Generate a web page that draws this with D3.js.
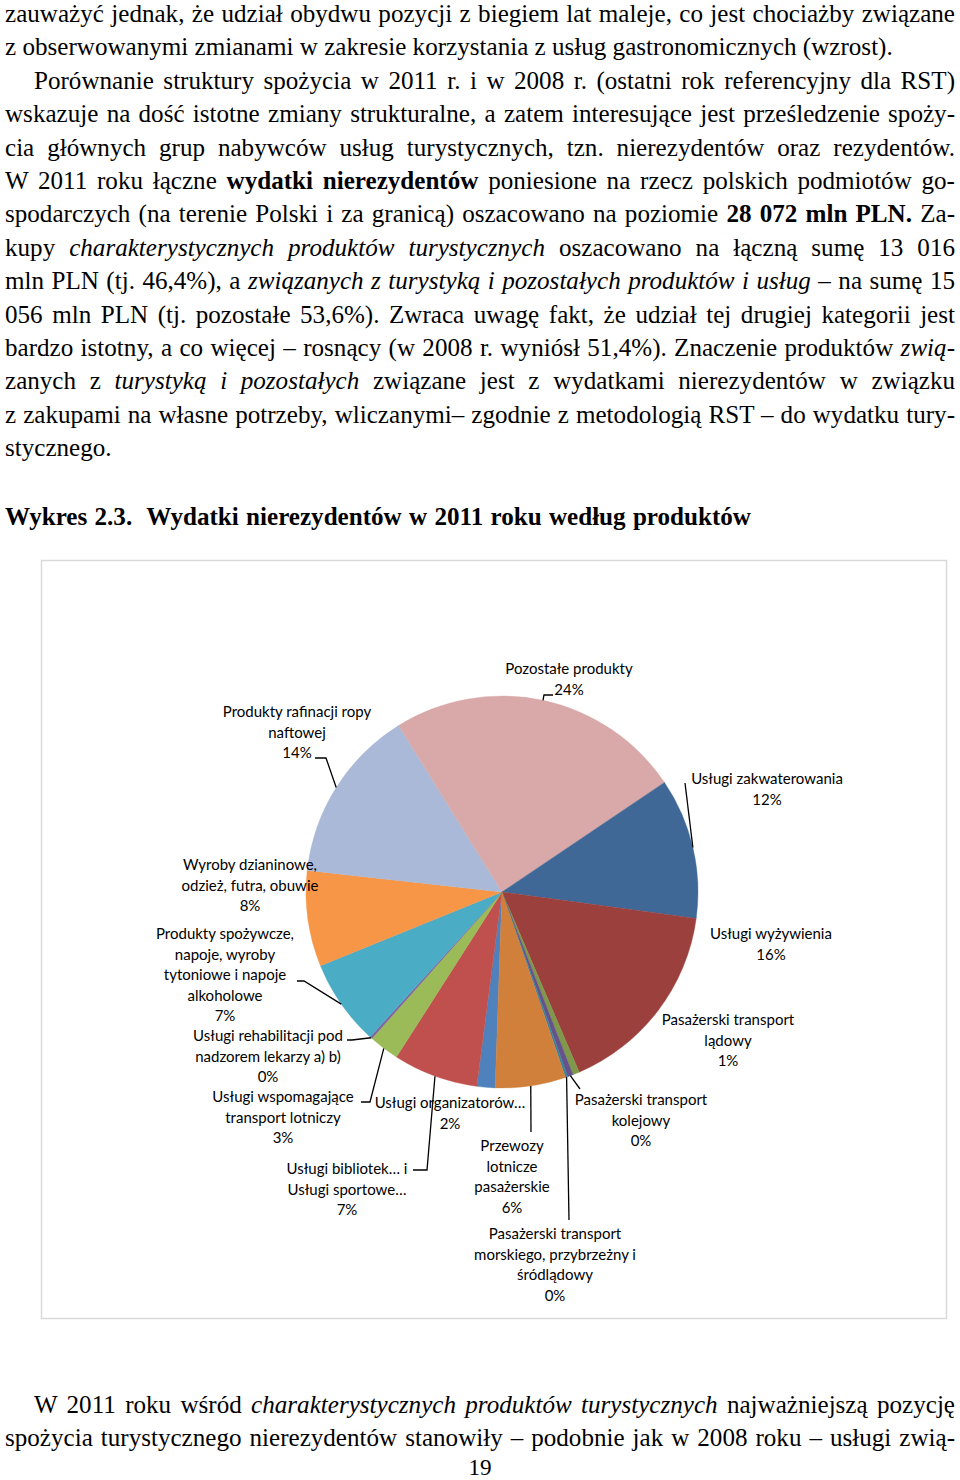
<!DOCTYPE html>
<html>
<head>
<meta charset="utf-8">
<script src="https://cdn.jsdelivr.net/npm/d3@7"></script>
<style>
  body { margin: 0; background: #fff; }
  svg { display: block; }
</style>
</head>
<body>
<div id="page"></div>
<script>
//Page size
let width = 960,
  height = 1480;

//Pie data, in sheet order (clockwise from the first slice)
let categories = [
  "Usługi organizatorów…",
  "Usługi bibliotek… i\nUsługi sportowe…",
  "Usługi wspomagające\ntransport lotniczy",
  "Usługi rehabilitacji pod\nnadzorem lekarzy a) b)",
  "Produkty spożywcze,\nnapoje, wyroby\ntytoniowe i napoje\nalkoholowe",
  "Wyroby dzianinowe,\nodzież, futra, obuwie",
  "Produkty rafinacji ropy\nnaftowej",
  "Pozostałe produkty",
  "Usługi zakwaterowania",
  "Usługi wyżywienia",
  "Pasażerski transport\nlądowy",
  "Pasażerski transport\nkolejowy",
  "Pasażerski transport\nmorskiego, przybrzeżny i\nśródlądowy",
  "Przewozy\nlotnicze\npasażerskie"
];
let shares = [1.5, 7.0, 2.5, 0.2, 7.1, 7.9, 14.4, 24.4, 11.6, 16.4, 0.55, 0.45, 0.2, 5.8];
let colors = ["#4F81BD", "#C0504D", "#9BBB59", "#8064A2", "#4BACC6", "#F79646", "#A9B9D7",
  "#D8A9A8", "#3F6897", "#9B403D", "#7F984A", "#67518B", "#3A8498", "#D0803B"];

//Where Excel put each data label (centre x, first line y) and its leader line
let labelLayout = [
  {x: 450, y: 1103, leader: null},
  {x: 347, y: 1169, leader: [[413, 1170], [427, 1170]]},
  {x: 283, y: 1097, leader: [[361, 1102], [370, 1102]]},
  {x: 268, y: 1036, leader: [[347, 1040], [352, 1040]]},
  {x: 225, y: 934, leader: [[297, 981], [304, 981]]},
  {x: 250, y: 865, leader: null},
  {x: 297, y: 712, leader: [[315, 758], [326, 758]]},
  {x: 569, y: 669, leader: [[553, 695], [544, 695]]},
  {x: 767, y: 779, leader: [[685, 783]]},
  {x: 771, y: 934, leader: null},
  {x: 728, y: 1020, leader: null},
  {x: 641, y: 1100, leader: [[580, 1089]]},
  {x: 555, y: 1234, leader: [[569, 1220]]},
  {x: 512, y: 1146, leader: [[531, 1132]]}
];

//Body text, one entry per printed line: [text, style] pieces
let topLines = [
  [["zauważyć jednak, że udział obydwu pozycji z biegiem lat maleje, co jest chociażby związane"]],
  [["z obserwowanymi zmianami w zakresie korzystania z usług gastronomicznych (wzrost)."]],
  [["Porównanie struktury spożycia w 2011 r. i w 2008 r. (ostatni rok referencyjny dla RST)"]],
  [["wskazuje na dość istotne zmiany strukturalne, a zatem interesujące jest prześledzenie spoży-"]],
  [["cia głównych grup nabywców usług turystycznych, tzn. nierezydentów oraz rezydentów."]],
  [["W 2011 roku łączne "], ["wydatki nierezydentów", "b"], [" poniesione na rzecz polskich podmiotów go-"]],
  [["spodarczych (na terenie Polski i za granicą) oszacowano na poziomie "], ["28 072 mln PLN.", "b"], [" Za-"]],
  [["kupy "], ["charakterystycznych produktów turystycznych", "i"], [" oszacowano na łączną sumę 13 016"]],
  [["mln PLN (tj. 46,4%), a "], ["związanych z turystyką i pozostałych produktów i usług", "i"], [" – na sumę 15"]],
  [["056 mln PLN (tj. pozostałe 53,6%). Zwraca uwagę fakt, że udział tej drugiej kategorii jest"]],
  [["bardzo istotny, a co więcej – rosnący (w 2008 r. wyniósł 51,4%). Znaczenie produktów "], ["zwią-", "i"]],
  [["zanych z "], ["turystyką", "i"], [" "], ["i pozostałych", "i"], [" związane jest z wydatkami nierezydentów w związku"]],
  [["z zakupami na własne potrzeby, wliczanymi– zgodnie z metodologią RST – do wydatku tury-"]],
  [["stycznego."]]
];
//Paragraph ends are not justified, first lines are indented
let lastLines = [1, 13];
let indentLines = [2];

let bottomLines = [
  [["W 2011 roku wśród "], ["charakterystycznych produktów turystycznych", "i"], [" najważniejszą pozycję"]],
  [["spożycia turystycznego nierezydentów stanowiły – podobnie jak w 2008 roku – usługi zwią-"]]
];

let chartTitle = "Wykres 2.3.  Wydatki nierezydentów w 2011 roku według produktów";
let pageNumber = "19";

//Pick the first Times-like face that is really there (canvas width test)
let ctx = document.createElement("canvas").getContext("2d");
function widthIn(font) {
  ctx.font = "40px " + font;
  return ctx.measureText("Wydatki nierezydentów 2011 abcxyz").width;
}
let monoW = widthIn("monospace"), sansW = widthIn("sans-serif");
let serifFace = ["Liberation Serif", "Times New Roman", "Tinos", "Nimbus Roman", "Nimbus Roman No9 L",
  "FreeSerif", "Noto Serif", "DejaVu Serif Condensed", "DejaVu Serif"].find(function (f) {
  let w1 = widthIn("'" + f + "', monospace"), w2 = widthIn("'" + f + "', sans-serif");
  return w1 !== monoW || w2 !== sansW;
}) || "serif";
let serifFamily = "'" + serifFace + "', serif";
let fontSize = serifFace.indexOf("DejaVu") === 0 || serifFace === "serif" ? 22 : 26;

let svg = d3.select("#page").append("svg")
  .attr("width", width)
  .attr("height", height);

svg.append("rect")
  .attr("width", width).attr("height", height)
  .attr("fill", "white");

//----- body text -----
let left = 5, right = 955, indent = 29, lineGap = 33.4;

function addLine(pieces) {
  let t = svg.append("text")
    .style("font-family", serifFamily)
    .attr("font-size", fontSize)
    .attr("fill", "#000")
    .style("white-space", "pre");
  pieces.forEach(function (p) {
    t.append("tspan")
      .attr("font-weight", p[1] === "b" ? "bold" : null)
      .attr("font-style", p[1] === "i" ? "italic" : null)
      .text(p[0]);
  });
  return t;
}

//horizontal squeeze of the scanned serif, taken from the one unjustified long line
let probe = addLine(topLines[1]);
let squeeze = 888 / probe.node().getComputedTextLength();
probe.remove();

function layLine(pieces, y, x0, x1, justify) {
  let t = addLine(pieces);
  t.attr("transform", "translate(" + x0 + "," + y + ") scale(" + squeeze + ",1)");
  if (justify) {
    let natural = t.node().getComputedTextLength();
    let spaces = pieces.map(p => p[0]).join("").split(" ").length - 1;
    let target = (x1 - x0) / squeeze;
    t.style("word-spacing", ((target - natural) / spaces) + "px");
  }
  return t;
}

topLines.forEach(function (pieces, i) {
  let x0 = indentLines.includes(i) ? left + indent : left;
  layLine(pieces, 22 + i * lineGap, x0, right, !lastLines.includes(i));
});

layLine([[chartTitle, "b"]], 525, left, 751, true);

bottomLines.forEach(function (pieces, i) {
  layLine(pieces, 1413 + i * lineGap, i === 0 ? left + indent : left, right, true);
});

svg.append("text")
  .style("font-family", serifFamily)
  .attr("text-anchor", "middle")
  .attr("font-size", fontSize - 2)
  .attr("transform", "translate(480,1475) scale(" + squeeze + ",1)")
  .attr("fill", "#000")
  .text(pageNumber);

//----- chart area -----
svg.append("rect")
  .attr("x", 41.5).attr("y", 560.5)
  .attr("width", 905).attr("height", 758)
  .attr("fill", "white")
  .attr("stroke", "#d9d9d9")
  .attr("stroke-width", 1.5);

let cx = 502, cy = 892, radius = 196;
let firstSliceAngle = 182 * Math.PI / 180;

let pie = d3.pie()
  .sort(null)
  .value(d => d)
  .startAngle(firstSliceAngle)
  .endAngle(firstSliceAngle + 2 * Math.PI);

let arc = d3.arc().innerRadius(0).outerRadius(radius);
let rim = d3.arc().innerRadius(radius).outerRadius(radius);

let total = d3.sum(shares);
let slices = pie(shares);

let g = svg.append("g")
  .attr("transform", "translate(" + cx + "," + cy + ")");

g.selectAll(".slice")
  .data(slices)
  .enter().append("path")
  .attr("class", "slice")
  .attr("d", arc)
  .attr("fill", (d, i) => colors[i])
  .attr("stroke", (d, i) => colors[i])
  .attr("stroke-width", 0.4);

//Leader lines: label side points, then the rim point of the slice
let line = d3.line();
slices.forEach(function (d, i) {
  let lay = labelLayout[i];
  if (!lay.leader) return;
  let p = rim.centroid(d);
  let pts = lay.leader.concat([[cx + p[0], cy + p[1]]]);
  svg.append("path")
    .attr("d", line(pts))
    .attr("fill", "none")
    .attr("stroke", "#000")
    .attr("stroke-width", 1.3);
});

//Data labels: name lines then rounded percentage
let labelGap = 20.5;
slices.forEach(function (d, i) {
  let lay = labelLayout[i];
  let rows = categories[i].split("\n").concat([Math.round(shares[i] / total * 100) + "%"]);
  let t = svg.append("text")
    .style("font-family", "Lato, 'Open Sans', sans-serif")
    .attr("font-size", 15)
    .attr("fill", "#000")
    .attr("text-anchor", "middle");
  rows.forEach(function (row, j) {
    t.append("tspan")
      .attr("x", lay.x)
      .attr("y", lay.y + j * labelGap)
      .attr("dy", "0.35em")
      .text(row);
  });
});
</script>
</body>
</html>
